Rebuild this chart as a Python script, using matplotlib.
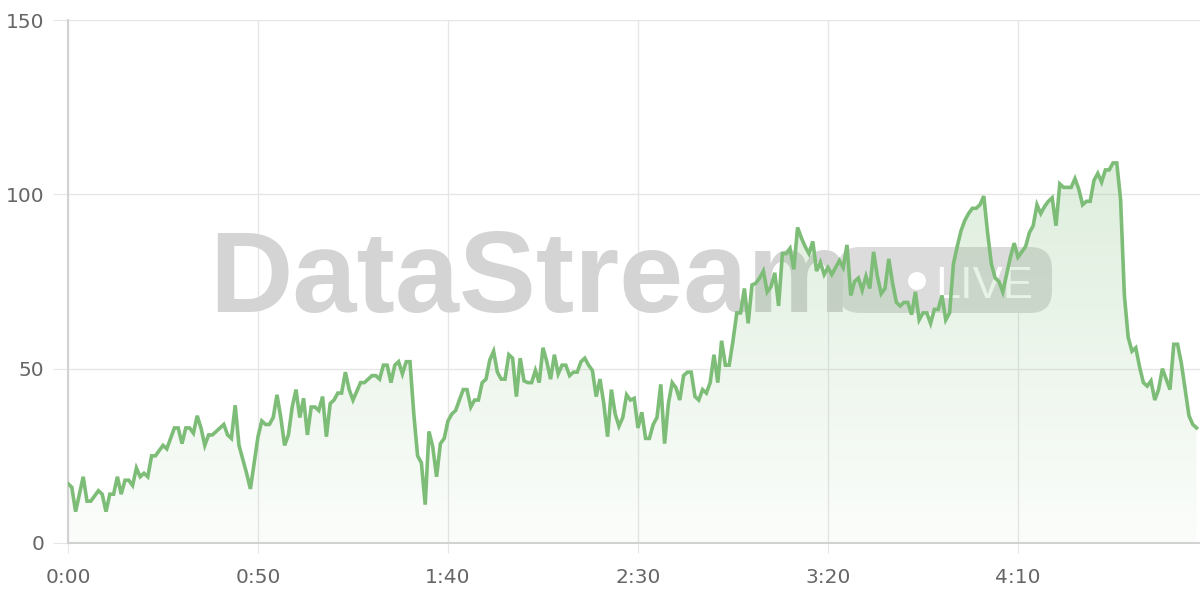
import numpy as np
import matplotlib.pyplot as plt
from matplotlib.colors import LinearSegmentedColormap
from matplotlib.patches import FancyBboxPatch, Circle

# one sample per second, 0:00 .. 4:57
values = [
    17, 16, 9, 14, 19, 12, 12, 13.5, 15, 14,
    9, 14, 14, 19, 14, 18, 18, 16.5, 21.5, 19,
    20, 19, 25, 25, 26.5, 28, 27, 30, 33, 33,
    28.5, 33, 33, 31.5, 36.5, 33, 28, 31, 31, 32,
    33, 34, 31, 30, 39.5, 28, 24, 20, 15.5, 23,
    30.5, 35, 34, 34, 36, 42.5, 36, 28, 31, 39,
    44, 36, 41.5, 31, 39, 39, 38, 42, 30.5, 40,
    41, 43, 43, 49, 44, 41, 43.5, 46, 46, 47,
    48, 48, 47, 51, 51, 46, 51, 52, 48.5, 52,
    52, 37, 25, 23, 11, 32, 27.5, 19, 28.5, 30,
    35, 37, 38, 41, 44, 44, 39, 41, 41, 46,
    47, 52.5, 55, 49, 47, 47, 54, 53, 42, 53,
    46.5, 46, 46, 49.5, 46, 56, 52, 47, 54, 48.5,
    51, 51, 48, 49, 49, 52, 53, 51, 49.5, 42,
    47, 40, 30.5, 44, 37, 33.5, 36, 42.5, 41, 41.5,
    33, 37.5, 30, 30, 34, 36, 45.5, 28.5, 40, 46,
    44.5, 41, 48, 49, 49, 42, 41, 44, 43, 46,
    54, 46, 58, 51, 51, 58, 66, 66, 73, 63,
    74, 74.5, 76, 78, 72, 73.5, 77.5, 68, 83, 83,
    84.5, 78.5, 90.5, 87.5, 85, 83, 86.5, 78, 80.5, 77,
    79, 77, 79, 81, 79, 85.5, 71, 75, 76, 72.5,
    76.5, 73, 83.5, 76.5, 71.5, 73, 81.5, 74.5, 69, 68,
    69, 69, 65.5, 72, 64, 66, 66, 63, 67, 67,
    71, 64, 66, 80, 85, 89.5, 92.5, 94.5, 96, 96,
    97, 99.5, 89, 80, 76, 75, 72, 77, 82, 86,
    82, 83.5, 85, 89, 91, 97, 94.5, 96.5, 98, 99,
    91, 103, 102, 102, 102, 104.5, 101.5, 97, 98, 98,
    104, 106, 103.5, 107, 107, 109, 109, 98.5, 71, 59,
    55, 56, 50.5, 46, 45, 46.5, 41, 44, 50, 47,
    44, 57, 57, 51.5, 44, 36.5, 34, 33,
]
seconds = np.arange(len(values))

x_ticks = [0, 50, 100, 150, 200, 250]
x_labels = ["0:00", "0:50", "1:40", "2:30", "3:20", "4:10"]
y_ticks = [0, 50, 100, 150]

line_col = "#7dbd78"
text_col = "#666666"
grid_col = "#e6e6e6"
axis_col = "#d2d2d2"

fig = plt.figure(figsize=(12, 6), dpi=100)
ax = fig.add_axes([68 / 1200, 57 / 600, 1 - 68 / 1200, 523 / 600])

ax.set_xticks(x_ticks)
ax.set_xticklabels(x_labels)
ax.set_yticks(y_ticks)
ax.grid(True, color=grid_col, linewidth=1)
ax.set_axisbelow(True)
for s in ["top", "right"]:
    ax.spines[s].set_visible(False)
for s in ["left", "bottom"]:
    ax.spines[s].set_color(axis_col)
    ax.spines[s].set_linewidth(1.5)
ax.tick_params(axis="y", length=11, color=grid_col, pad=6, labelsize=14.5, labelcolor=text_col)
ax.tick_params(axis="x", length=7, color=grid_col, pad=11, labelsize=14.5, labelcolor=text_col)

# watermark, placed in inches (figure is 12 x 6 in), under the data
inch = fig.dpi_scale_trans
pill = FancyBboxPatch((8.38, 2.87), 2.14, 0.66,
                      boxstyle="round,pad=0,rounding_size=0.22",
                      transform=inch, facecolor="#dcdcdc",
                      edgecolor="none", zorder=0.9)
ax.add_patch(pill)
ax.text(2.09, 2.88, "DataStream", transform=inch, fontsize=83,
        fontweight="bold", family="Liberation Sans", color="#d4d4d4",
        ha="left", va="baseline", zorder=1)
ax.add_patch(Circle((9.17, 3.19), 0.09, transform=inch,
                    facecolor="white", edgecolor="none", zorder=1.1))
ax.text(9.35, 3.02, "LIVE", transform=inch, fontsize=32.5, color="white",
        family="Liberation Sans", ha="left", va="baseline", zorder=1.2)

# gradient fill under the line
poly = ax.fill_between(seconds, values, 0, facecolor="none", edgecolor="none")
cmap = LinearSegmentedColormap.from_list(
    "g", [(0.49, 0.74, 0.47, 0.03), (0.49, 0.74, 0.47, 0.34)])
grad = np.linspace(0, 1, 256).reshape(-1, 1)
im = ax.imshow(grad, extent=[0, seconds[-1], 0, 150], origin="lower",
               aspect="auto", cmap=cmap, zorder=2)
im.set_clip_path(poly.get_paths()[0], transform=ax.transData)

ax.plot(seconds, values, color=line_col, linewidth=2.6, zorder=4,
        solid_joinstyle="miter")

ax.set_xlim(0, 297.9)
ax.set_ylim(0, 150)

fig.savefig("out.png", dpi=100)
